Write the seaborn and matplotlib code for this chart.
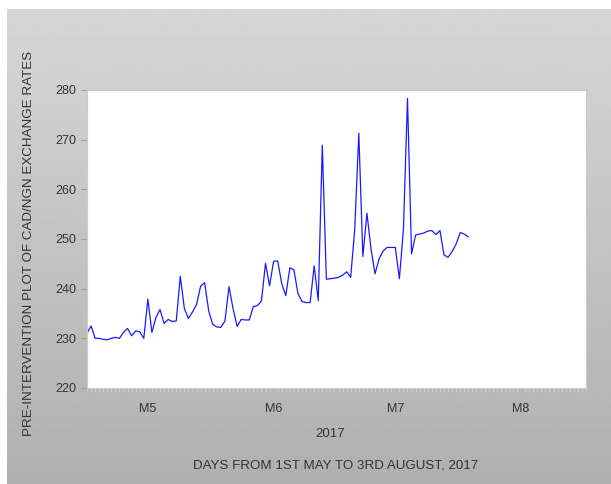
import numpy as np
import pandas as pd
import seaborn as sns
import matplotlib.pyplot as plt
import matplotlib.dates as mdates
import matplotlib.ticker as mticker

# daily CAD/NGN rates, 1st May - 3rd Aug 2017
rates = [231.0, 232.5, 230.0, 230.0, 229.8, 229.7, 230.0, 230.2, 230.0, 231.2,
         232.0, 230.5, 231.5, 231.3, 230.0, 237.9, 231.2, 234.2, 235.8, 233.0,
         233.8, 233.4, 233.5, 242.5, 236.0, 234.0, 235.3, 236.8, 240.5, 241.2,
         235.5, 232.8, 232.3, 232.2, 233.5, 240.4, 236.0, 232.4, 233.8, 233.7,
         233.7, 236.4, 236.6, 237.5, 245.1, 240.6, 245.5, 245.6, 241.0, 238.6,
         244.2, 243.8, 239.0, 237.4, 237.2, 237.2, 244.6, 237.6, 268.9, 241.9,
         242.0, 242.1, 242.3, 242.7, 243.4, 242.3, 252.0, 271.3, 246.5, 255.2,
         248.0, 243.0, 246.0, 247.6, 248.3, 248.3, 248.3, 242.0, 252.0, 278.3,
         247.0, 250.8, 251.0, 251.2, 251.6, 251.7, 250.9, 251.7, 246.8, 246.3,
         247.5, 249.0, 251.3, 251.0, 250.4]
days = pd.date_range('2017-05-01', periods=len(rates), freq='D')
month_labels = ['M5', 'M6', 'M7', 'M8']
y_ticks = [220, 230, 240, 250, 260, 270, 280]

df = pd.DataFrame({'day': days, 'rate': rates})

sns.set_style('white')
plt.rcParams['font.family'] = ['Liberation Sans', 'DejaVu Sans']
txt = '#333333'

fig = plt.figure(figsize=(6.11, 4.84), dpi=100, facecolor='white')

# grey gradient backdrop
bg = fig.add_axes([7 / 611, 0, 1 - 7 / 611, 1 - 9 / 484], zorder=-10)
grad = np.linspace(0.84, 0.69, 256).reshape(-1, 1)
bg.imshow(grad, aspect='auto', cmap='gray', vmin=0, vmax=1, extent=[0, 1, 0, 1])
bg.axis('off')

ax = fig.add_axes([87 / 611, 1 - 388 / 484, 499 / 611, 298 / 484])
ax.set_facecolor('white')
sns.lineplot(data=df, x='day', y='rate', ax=ax, color='#1a1aff', linewidth=0.9)

ax.set_xlim(pd.Timestamp('2017-05-01'), pd.Timestamp('2017-09-01'))
ax.set_ylim(220, 280)
ax.set_yticks(y_ticks)
ax.yaxis.set_major_formatter(mticker.FormatStrFormatter('%d'))

mid = [pd.Timestamp(f'2017-0{m}-16') for m in range(5, 9)]
ax.set_xticks(mid)
ax.set_xticklabels(month_labels)
ax.xaxis.set_minor_locator(mdates.DayLocator())

ax.tick_params(axis='y', which='major', direction='out', length=4.5, width=0.8,
               color='#a0a0a0', labelsize=9, labelcolor=txt, pad=3, left=True)
ax.tick_params(axis='x', which='major', length=0, labelsize=9, labelcolor=txt, pad=11)
ax.tick_params(axis='x', which='minor', direction='out', length=2.5, width=0.6,
               color='#d0d0d0', bottom=True)

for s in ax.spines.values():
    s.set_color('#cccccc')
    s.set_linewidth(0.8)

ax.set_xlabel('')
ax.set_ylabel('')
fig.text(330 / 611, 1 - 434 / 484, '2017', ha='center', va='center',
         fontsize=9.5, color=txt)
fig.text(336 / 611, 1 - 466 / 484, 'DAYS FROM 1ST MAY TO 3RD AUGUST, 2017',
         ha='center', va='center', fontsize=9.6, color=txt)
fig.text(29 / 611, 1 - 243 / 484, 'PRE-INTERVENTION PLOT OF CAD/NGN EXCHANGE RATES',
         ha='center', va='center', rotation=90, fontsize=9.6, color=txt)

fig.savefig('out.png', dpi=100)
